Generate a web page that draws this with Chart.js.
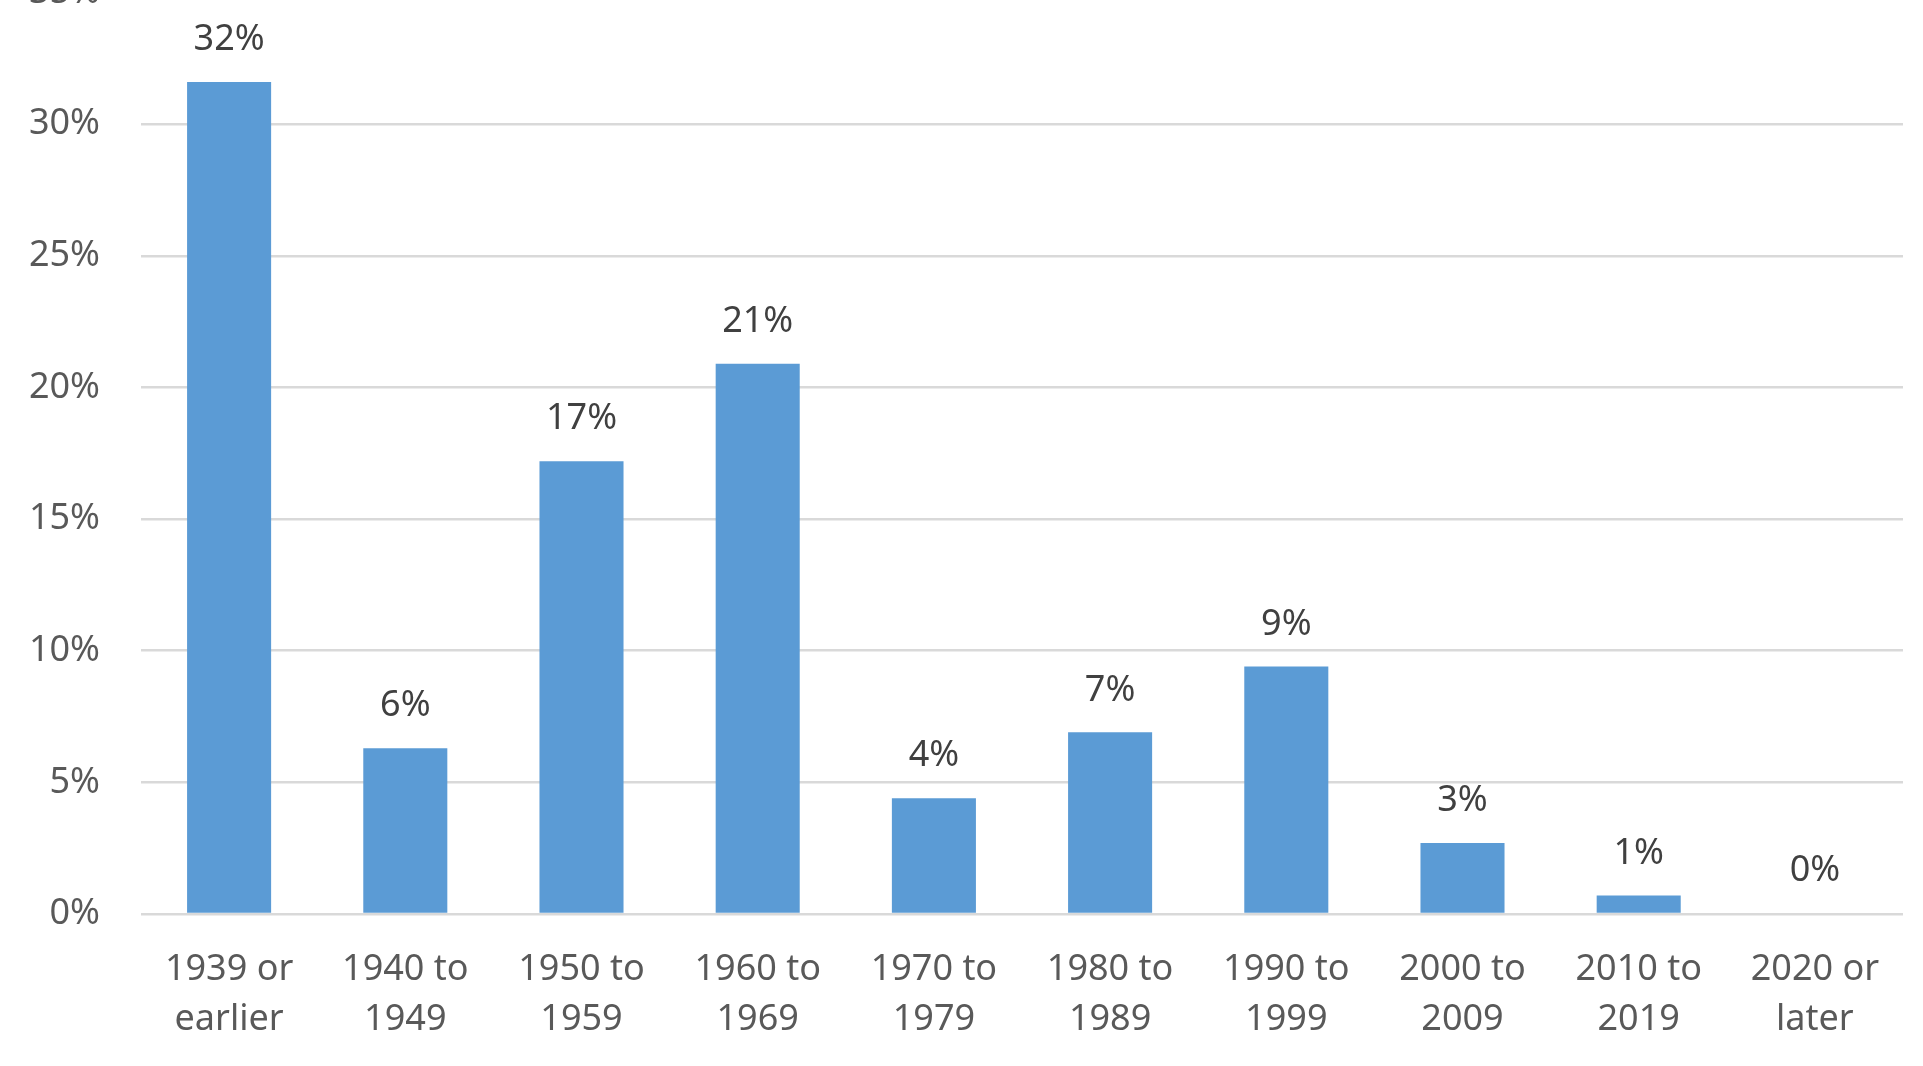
<!DOCTYPE html>
<html>
<head>
<meta charset="utf-8">
<title>Year built</title>
<script src="https://cdn.jsdelivr.net/npm/chart.js@4/dist/chart.umd.min.js"></script>
<style>
  html, body { margin: 0; padding: 0; background: #fff; overflow: hidden; }
  #wrap { position: absolute; left: 0; top: -70px; width: 1923px; height: 1136px; }
</style>
</head>
<body>
<div id="wrap"><canvas id="myChart"></canvas></div>
<script>
'use strict';

//// Data
const categories = [
    ['1939 or', 'earlier'], ['1940 to', '1949'], ['1950 to', '1959'], ['1960 to', '1969'],
    ['1970 to', '1979'], ['1980 to', '1989'], ['1990 to', '1999'], ['2000 to', '2009'],
    ['2010 to', '2019'], ['2020 or', 'later']
];
const shares = [31.6, 6.3, 17.2, 20.9, 4.4, 6.9, 9.4, 2.7, 0.7, 0.05];
const yTicks = [0, 5, 10, 15, 20, 25, 30, 35];

const FONT = '"Noto Sans", "Liberation Sans", sans-serif';

//// value labels above bars
const barLabels = {
    id: 'barLabels',
    afterDatasetsDraw(chart) {
        const ctx = chart.ctx;
        const meta = chart.getDatasetMeta(0);
        ctx.save();
        ctx.font = '36px ' + FONT;
        ctx.fillStyle = '#404040';
        ctx.textAlign = 'center';
        ctx.textBaseline = 'middle';
        meta.data.forEach((bar, i) => {
            ctx.fillText(Math.round(shares[i]) + '%', bar.x, bar.y - 42);
        });
        ctx.restore();
    }
};

var ctx = document.getElementById('myChart').getContext('2d');

var chart = new Chart(ctx, {
    type: 'bar',
    data: {
        labels: categories,
        datasets: [{
            data: shares,
            backgroundColor: '#5b9bd5',
            borderWidth: 0,
            categoryPercentage: 1,
            barPercentage: 0.477
        }]
    },
    options: {
        responsive: true,
        maintainAspectRatio: false,
        animation: false,
        layout: { padding: { top: 41, right: 20, left: 0, bottom: 0 } },
        plugins: {
            legend: { display: false },
            tooltip: { enabled: false }
        },
        scales: {
            x: {
                grid: { display: false, drawTicks: false },
                border: { display: false },
                ticks: {
                    color: '#595959',
                    font: { family: FONT, size: 36, lineHeight: 1.38 },
                    padding: 31,
                    maxRotation: 0,
                    autoSkip: false
                },
                afterFit(scale) { scale.height = 152; }
            },
            y: {
                min: 0,
                max: 35,
                afterBuildTicks(scale) { scale.ticks = yTicks.map(v => ({ value: v })); },
                grid: { color: '#d9d9d9', lineWidth: 2.5, drawTicks: false },
                border: { display: false },
                ticks: {
                    color: '#595959',
                    font: { family: FONT, size: 36 },
                    padding: 41,
                    callback: v => v + '%'
                },
                afterFit(scale) { scale.width = 141; }
            }
        }
    },
    plugins: [barLabels]
});
</script>
</body>
</html>
